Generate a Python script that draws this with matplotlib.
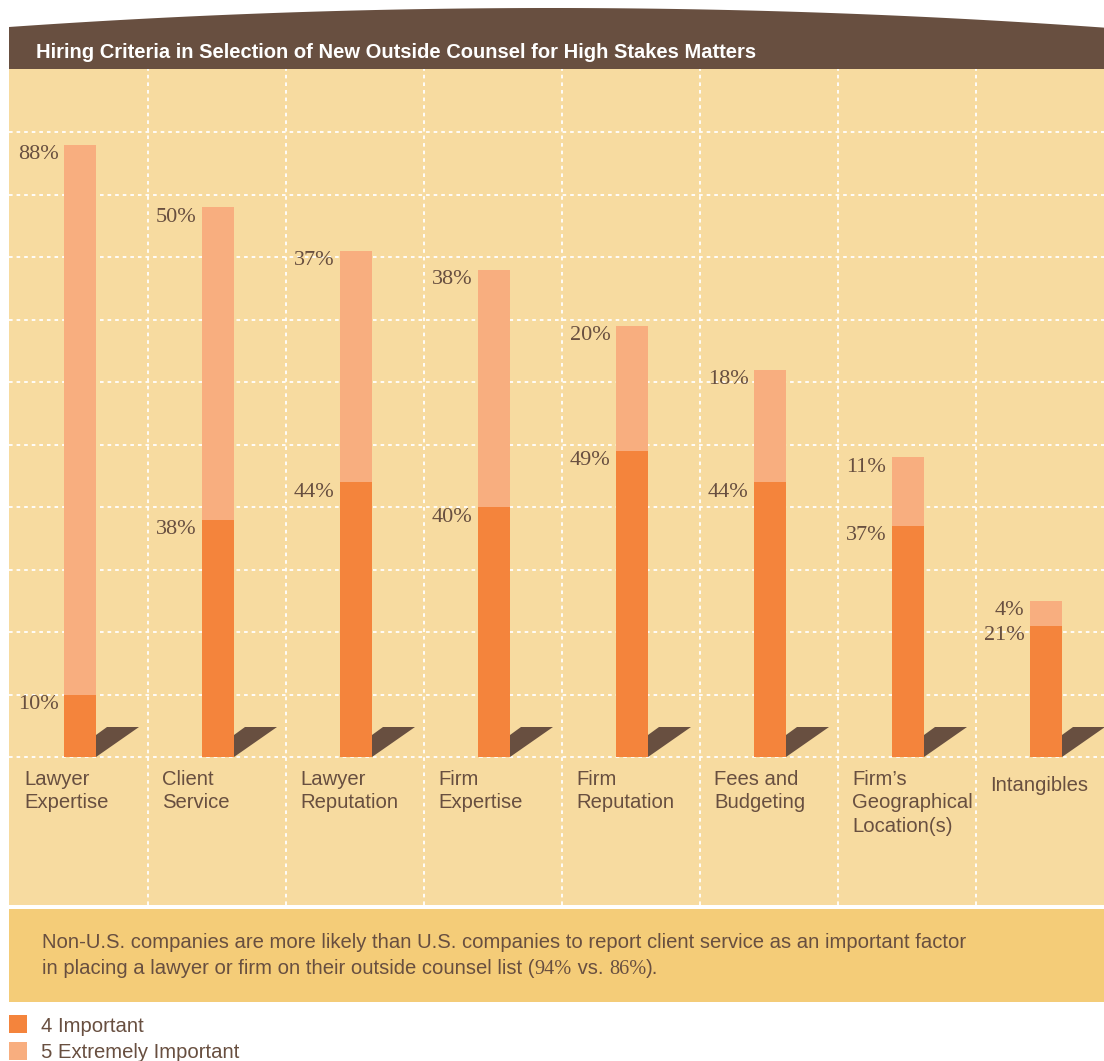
import numpy as np
import matplotlib.pyplot as plt
from matplotlib.patches import Polygon, Rectangle

# survey data: share of respondents rating each criterion 4 or 5
categories = ["Lawyer\nExpertise", "Client\nService", "Lawyer\nReputation",
              "Firm\nExpertise", "Firm\nReputation", "Fees and\nBudgeting",
              "Firm’s\nGeographical\nLocation(s)", "Intangibles"]
important = [10, 38, 44, 40, 49, 44, 37, 21]
extremely = [88, 50, 37, 38, 20, 18, 11, 4]
series_names = ["4 Important", "5 Extremely Important"]

title = "Hiring Criteria in Selection of New Outside Counsel for High Stakes Matters"
note_line1 = ("Non-U.S. companies are more likely than U.S. companies to report "
              "client service as an important factor")
note_line2 = [("in placing a lawyer or firm on their outside counsel list (", "sans"),
              ("94%", "serif"), (" vs. ", "sans"), ("86%", "serif"), (").", "sans")]

DARK = "#F4843C"
LIGHT = "#F8AE7F"
PANEL = "#F7DBA0"
BOX = "#F4CC78"
BROWN = "#684F40"
SANS = ["Liberation Sans", "DejaVu Sans"]
SERIF = ["Liberation Serif", "DejaVu Serif"]
BODY = 14.6

W, H = 1104, 1061
fig = plt.figure(figsize=(W / 100, H / 100), dpi=100)

# background layer in pixel coordinates
bg = fig.add_axes([0, 0, 1, 1])
bg.set_xlim(0, W)
bg.set_ylim(H, 0)
bg.axis("off")

# curved header band
xs = np.linspace(9, W, 200)
top = 8 + 19 / 543 ** 2 * (xs - 552) ** 2
band = np.column_stack([np.r_[xs, W, 9], np.r_[top, 69, 69]])
bg.add_patch(Polygon(band, closed=True, color=BROWN, lw=0))
bg.text(36, 53, title, color="white", fontsize=14.5, fontweight="bold",
        family=SANS, va="center", ha="left")

# note box under the chart
bg.add_patch(Rectangle((9, 909), W - 9, 93, color=BOX, lw=0))
bg.text(42, 942, note_line1, color=BROWN, fontsize=BODY, family=SANS,
        va="center", ha="left")
renderer = fig.canvas.get_renderer()
x = 42
for piece, kind in note_line2:
    t = bg.text(x, 969, piece, color=BROWN, fontsize=BODY,
                family=SANS if kind == "sans" else SERIF,
                va="center", ha="left")
    x += t.get_window_extent(renderer).width

# legend
for k, (name, col) in enumerate(zip(series_names, [DARK, LIGHT])):
    y0 = 1015 + 27 * k
    bg.add_patch(Rectangle((9, y0), 18, 18, color=col, lw=0))
    bg.text(41, y0 + 11, name, color=BROWN, fontsize=BODY, family=SANS,
            va="center", ha="left")

# chart panel: x in column units (138 px each), y in percent (6.25 px per %)
ax = fig.add_axes([9 / W, 1 - 905 / H, (W - 9) / W, (905 - 69) / H])
ax.set_facecolor(PANEL)
ax.set_xlim(-1 / 138, (W - 10) / 138)
ax.set_ylim(-(905 - 757) / 6.25, (757 - 69) / 6.25)
for s in ax.spines.values():
    s.set_visible(False)
ax.set_xticks([])
ax.set_yticks([])

idx = np.arange(len(categories))
grid_kw = dict(color="white", lw=1.3, linestyles=(0, (2, 2.2)), zorder=1)
ax.hlines(np.arange(0, 101, 10), *ax.get_xlim(), **grid_kw)
ax.vlines(idx[1:], *ax.get_ylim(), **grid_kw)

bar_left = idx + 54 / 138
bar_w = 32 / 138
ax.bar(bar_left, important, width=bar_w, align="edge", color=DARK, zorder=3)
ax.bar(bar_left, extremely, bottom=important, width=bar_w, align="edge",
       color=LIGHT, zorder=3)

# floor shadow next to each bar
for i in idx:
    r = bar_left[i] + bar_w
    pts = [(r, 0), (r, 22 / 6.25), (r + 11 / 138, 30 / 6.25), (r + 43 / 138, 30 / 6.25)]
    ax.add_patch(Polygon(pts, closed=True, color=BROWN, lw=0, zorder=2))

# value labels beside the top of each segment
for i in idx:
    for val, top_val in [(important[i], important[i]),
                         (extremely[i], important[i] + extremely[i])]:
        ax.annotate(f"{val}%", (bar_left[i], top_val), xytext=(-4, -0.5),
                    textcoords="offset points", ha="right", va="top",
                    color=BROWN, fontsize=16, family=SERIF, zorder=4)

# category names below the baseline
for i, name in enumerate(categories):
    drop = 6 if "\n" not in name else 0
    ax.annotate(name, (i + 14 / 138, 0), xytext=(0, -(13 + drop) * 0.72),
                textcoords="offset points", ha="left", va="top",
                color=BROWN, fontsize=BODY, family=SANS, linespacing=1.3)

fig.savefig("out.png", dpi=100, facecolor="white")
